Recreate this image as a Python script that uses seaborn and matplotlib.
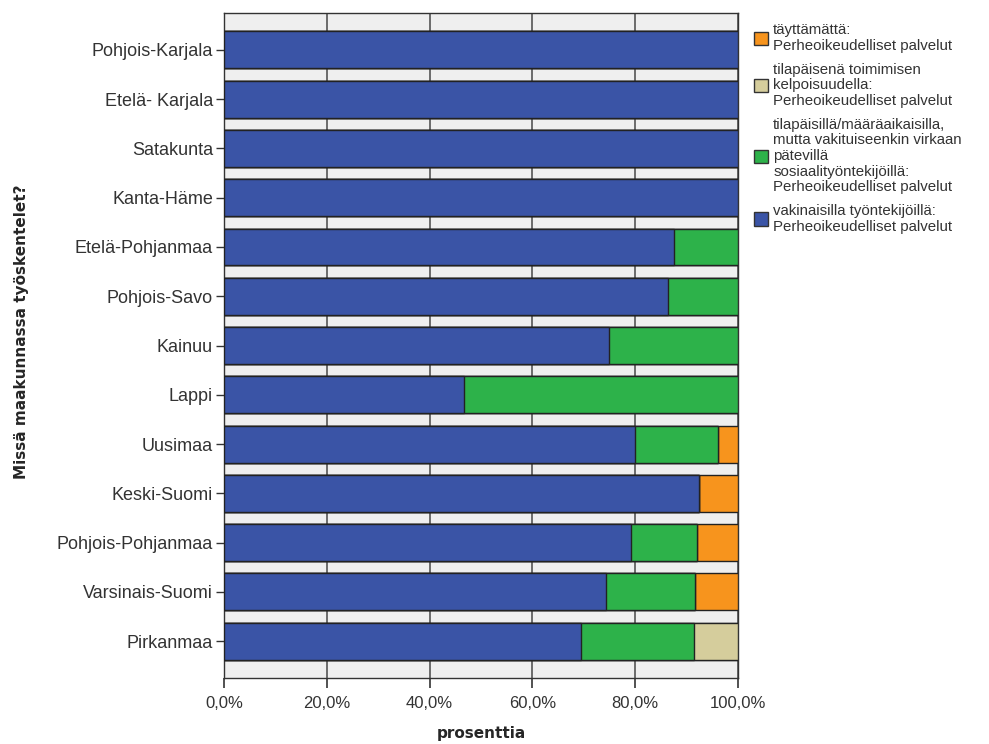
import matplotlib
matplotlib.use("Agg")
import matplotlib.pyplot as plt
import matplotlib.patches as mpatches
from matplotlib.ticker import FuncFormatter
import pandas as pd
import seaborn as sns

sns.set_theme(style="white")
plt.rcParams["font.family"] = ["Liberation Sans", "DejaVu Sans"]

# Data (percent of respondents per region)
maakunnat = ["Pohjois-Karjala", "Etelä- Karjala", "Satakunta", "Kanta-Häme",
             "Etelä-Pohjanmaa", "Pohjois-Savo", "Kainuu", "Lappi", "Uusimaa",
             "Keski-Suomi", "Pohjois-Pohjanmaa", "Varsinais-Suomi", "Pirkanmaa"]
vakinaiset = [100, 100, 100, 100, 87.5, 86.4, 75.0, 46.7, 80.0, 92.5, 79.2, 74.4, 69.4]
patevat = [0, 0, 0, 0, 12.5, 13.6, 25.0, 53.3, 16.1, 0, 12.8, 17.2, 22.0]
kelpoisuus = [0, 0, 0, 0, 0, 0, 0, 0, 0, 0, 0, 0, 8.6]
tayttamatta = [0, 0, 0, 0, 0, 0, 0, 0, 3.9, 7.5, 8.0, 8.4, 0]

labels = {
    "tayttamatta": "täyttämättä:\nPerheoikeudelliset palvelut",
    "kelpoisuus": "tilapäisenä toimimisen\nkelpoisuudella:\nPerheoikeudelliset palvelut",
    "patevat": "tilapäisillä/määräaikaisilla,\nmutta vakituiseenkin virkaan\npätevillä\nsosiaalityöntekijöillä:\nPerheoikeudelliset palvelut",
    "vakinaiset": "vakinaisilla työntekijöillä:\nPerheoikeudelliset palvelut",
}
colors = {
    "tayttamatta": "#f7941d",
    "kelpoisuus": "#d5cd9c",
    "patevat": "#2db24a",
    "vakinaiset": "#3a54a6",
}

df = pd.DataFrame({
    "maakunta": maakunnat,
    "vakinaiset": vakinaiset,
    "patevat": patevat,
    "kelpoisuus": kelpoisuus,
    "tayttamatta": tayttamatta,
})
# cumulative sums for overlay stacking
df["c1"] = df["vakinaiset"]
df["c2"] = df["c1"] + df["patevat"]
df["c3"] = df["c2"] + df["kelpoisuus"]
df["c4"] = df["c3"] + df["tayttamatta"]

fig = plt.figure(figsize=(9.89, 7.44), dpi=100)
ax = fig.add_axes([0.2265, 0.0887, 0.5197, 0.8938])
ax.set_facecolor("#efefef")

layers = [("c4", "tayttamatta"), ("c3", "kelpoisuus"), ("c2", "patevat"), ("c1", "vakinaiset")]
for col, key in layers:
    sns.barplot(data=df, x=col, y="maakunta", orient="h", color=colors[key],
                saturation=1, width=0.75, edgecolor="#222222", linewidth=1.0,
                ax=ax, zorder=3)

ax.set_xlim(0, 100)
ax.set_ylim(12.75, -0.75)
ax.set_xticks([0, 20, 40, 60, 80, 100])
ax.xaxis.set_major_formatter(FuncFormatter(lambda v, p: f"{v:.1f}%".replace(".", ",")))
ax.grid(axis="x", color="#555555", linewidth=1.2, zorder=0)
ax.set_axisbelow(True)
for s in ax.spines.values():
    s.set_color("#333333")
    s.set_linewidth(1.0)

ax.tick_params(axis="x", length=7, width=1.2, color="#333333", labelsize=12,
               labelcolor="#333333", pad=6, bottom=True)
ax.tick_params(axis="y", length=6, width=1.0, color="#333333", labelsize=13,
               labelcolor="#333333", pad=2, left=True)

ax.set_xlabel("prosenttia", fontsize=11, fontweight="bold", family="DejaVu Sans")
ax.set_ylabel("Missä maakunnassa työskentelet?", fontsize=11, fontweight="bold",
              family="DejaVu Sans")
ax.xaxis.set_label_coords(0.5, -0.072)
ax.yaxis.set_label_coords(-0.38, 0.52)

handles = [mpatches.Patch(facecolor=colors[k], edgecolor="#333333", label=labels[k])
           for k in ["tayttamatta", "kelpoisuus", "patevat", "vakinaiset"]]
leg = fig.legend(handles=handles, loc="upper left", bbox_to_anchor=(0.756, 0.977),
                 frameon=False, fontsize=10.8, handlelength=0.95, handleheight=1.0,
                 handletextpad=0.35, labelspacing=0.65, borderaxespad=0)
for t in leg.get_texts():
    t.set_color("#333333")
    t.set_linespacing(1.15)

fig.savefig("out.png", dpi=100)
